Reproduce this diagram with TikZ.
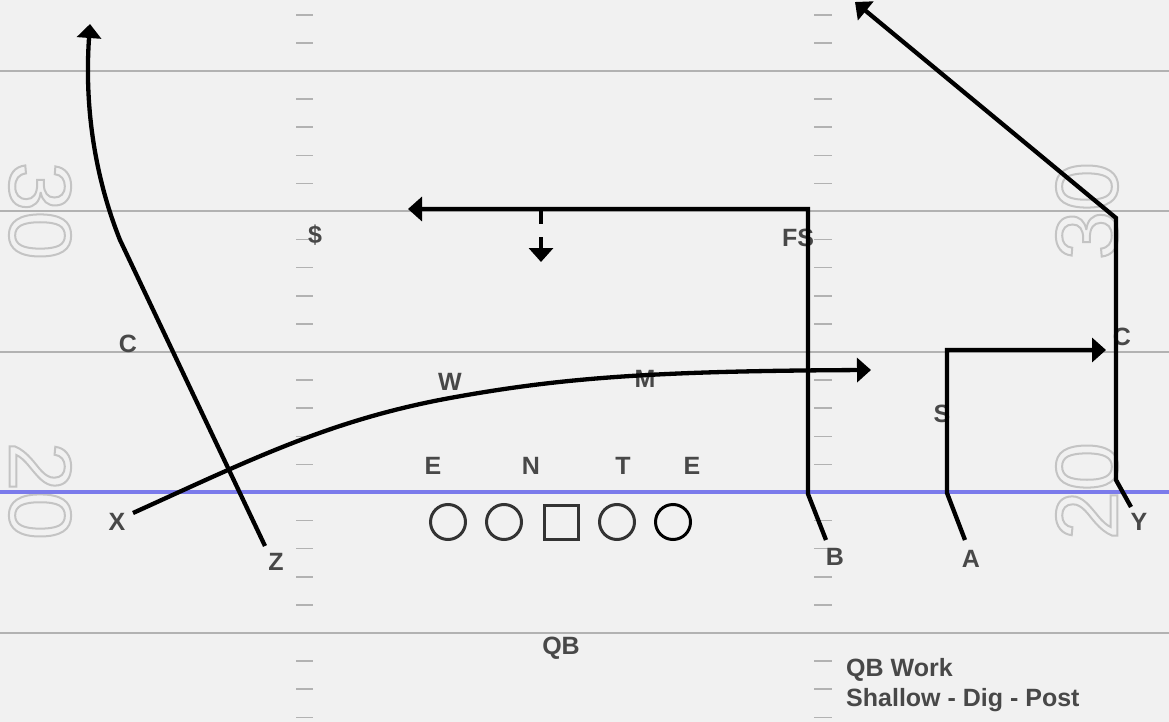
\documentclass[tikz,border=0pt]{standalone}
\usepackage{fontspec}
\setmainfont{Liberation Sans}
\usetikzlibrary{arrows.meta}
\definecolor{bg}{RGB}{241,241,241}
\definecolor{fieldline}{RGB}{178,178,178}
\definecolor{los}{RGB}{123,123,235}
\definecolor{lbl}{RGB}{72,72,72}
\definecolor{numc}{RGB}{196,196,196}
\definecolor{olc}{RGB}{51,51,51}
\newcommand{\outlinetext}[1]{\special{pdf:literal direct 1 Tr 2 w}#1\special{pdf:literal direct 0 Tr}}
\tikzset{
  field/.style={draw=fieldline, line width=2.8pt},
  hashmark/.style={draw=fieldline, line width=1.5pt},
  losline/.style={draw=los, line width=3.8pt},
  route/.style={draw=black, line width=4.3pt, -{Triangle[length=14pt,width=24pt]}},
  lbl/.style={text=lbl, font=\fontsize{25}{29}\selectfont\bfseries, inner sep=0pt},
  note/.style={text=lbl, font=\fontsize{25}{29}\selectfont\bfseries, inner sep=0pt, anchor=west},
  numtxt/.style={text=numc, font=\fontsize{88}{88}\selectfont, inner sep=0pt},
  oline/.style={draw=olc, line width=3pt, circle, minimum size=35pt, inner sep=0pt},
  center/.style={draw=olc, line width=3pt, rectangle, minimum size=34pt, inner sep=0pt},
}
\begin{document}
\begin{tikzpicture}[x=1pt,y=-1pt]
\useasboundingbox (0,0) rectangle (1169,722);
\fill[bg] (0,0) rectangle (1169,722);
% yard lines
\draw[field] (0,71) -- (1169,71);
\draw[field] (0,211) -- (1169,211);
\draw[field] (0,352) -- (1169,352);
\draw[field] (0,633) -- (1169,633);
% hash marks
\foreach \k in {-2,...,23}{
  \pgfmathtruncatemacro\m{mod(\k+10,5)}
  \ifnum\m>0
    \draw[hashmark] (296,{71+28.1*\k}) -- (313,{71+28.1*\k});
    \draw[hashmark] (814,{71+28.1*\k}) -- (832,{71+28.1*\k});
  \fi
}
% yard numbers
\node[numtxt, rotate=-90] (n30l) at (40,211) {\outlinetext{30}};
\node[numtxt, rotate=-90] (n20l) at (40,491) {\outlinetext{20}};
\node[numtxt, rotate=90] (n30r) at (1087,211) {\outlinetext{30}};
\node[numtxt, rotate=90] (n20r) at (1087,491) {\outlinetext{20}};
% line of scrimmage
\draw[losline] (0,492) -- (1169,492);
% offensive line
\node[oline] (lt) at (448,522) {};
\node[oline] (lg) at (504,522) {};
\node[center] (c) at (561,522) {};
\node[oline] (rg) at (617,522) {};
\node[oline, draw=black] (rt) at (673,522) {};
% defensive labels
\node[lbl] (dl) at (315,235) {\$};
\node[lbl] (dfs) at (798,238) {FS};
\node[lbl] (dcl) at (128,344) {C};
\node[lbl] (dcr) at (1122,337) {C};
\node[lbl] (dw) at (450,382) {W};
\node[lbl] (dm) at (645,379) {M};
\node[lbl] (ds) at (942,414) {S};
\node[lbl] (de1) at (433,466) {E};
\node[lbl] (dn) at (531,466) {N};
\node[lbl] (dt) at (623,466) {T};
\node[lbl] (de2) at (692,466) {E};
% offensive labels
\node[lbl] (ox) at (117,522) {X};
\node[lbl] (oz) at (276,562) {Z};
\node[lbl] (ob) at (835,557) {B};
\node[lbl] (oa) at (971,559) {A};
\node[lbl] (oy) at (1139,522) {Y};
\node[lbl] (oqb) at (561,648) {QB};
\node[note] (t1) at (846,670) {QB Work};
\node[note] (t2) at (846,700) {Shallow - Dig - Post};
% route coordinates
\coordinate (zs) at (265,546);
\coordinate (zb) at (120,240);
\coordinate (ze) at (90,24);
\coordinate (xs) at (133,513);
\coordinate (xm) at (450,398);
\coordinate (xe) at (871,370);
\coordinate (bs) at (826,540);
\coordinate (b1) at (808,494);
\coordinate (b2) at (808,209);
\coordinate (be) at (408,209);
\coordinate (d1) at (541,209);
\coordinate (d2) at (541,262);
\coordinate (as) at (965,540);
\coordinate (a1) at (947,493);
\coordinate (a2) at (947,350);
\coordinate (ae) at (1106,350);
\coordinate (ys) at (1131,507);
\coordinate (y1) at (1116,480);
\coordinate (y2) at (1116,218);
\coordinate (ye) at (855,2);
% routes
\draw[route] (zs) -- (zb) .. controls (96,180) and (84,110) .. (ze);
\draw[route] (xs) .. controls (250,460) and (330,420) .. (xm) .. controls (560,378) and (650,371) .. (xe);
\draw[route] (bs) -- (b1) -- (b2) -- (be);
\draw[route, dash pattern=on 15pt off 13pt] (d1) -- (d2);
\draw[route] (as) -- (a1) -- (a2) -- (ae);
\draw[route] (ys) -- (y1) -- (y2) -- (ye);
\end{tikzpicture}
\end{document}
